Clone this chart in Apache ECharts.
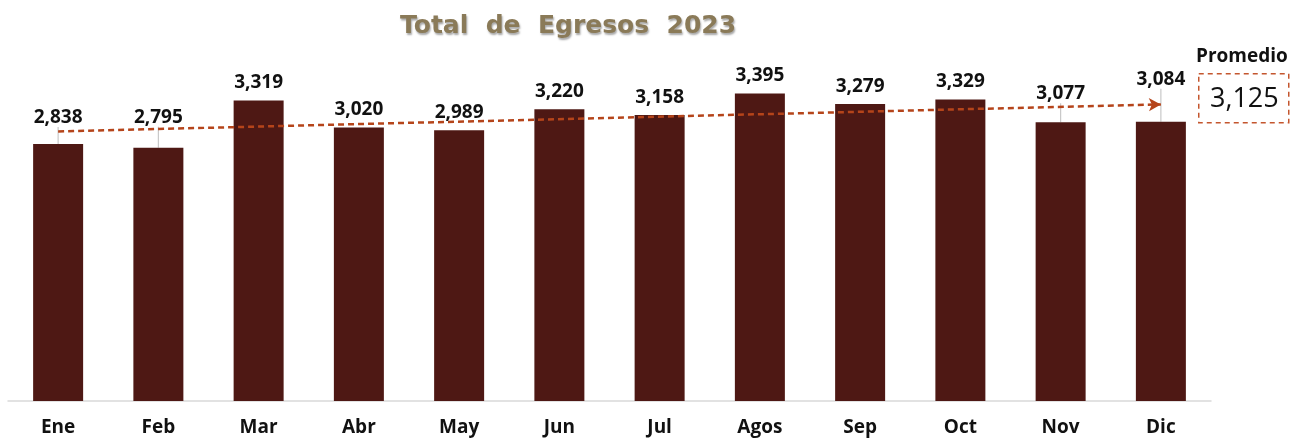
<!DOCTYPE html>
<html>
<head>
<meta charset="utf-8">
<script src="https://cdn.jsdelivr.net/npm/echarts@6/dist/echarts.min.js"></script>
<style>
  html, body { margin: 0; padding: 0; background: #ffffff; }
  #chart { width: 1303px; height: 438px; }
</style>
</head>
<body>
<div id="chart"></div>
<script>
const months = ["Ene", "Feb", "Mar", "Abr", "May", "Jun", "Jul", "Agos", "Sep", "Oct", "Nov", "Dic"];
const egresos = [2838, 2795, 3319, 3020, 2989, 3220, 3158, 3395, 3279, 3329, 3077, 3084];
// trend line ends (Ene -> Dic)
const trendEnds = [2976, 3275];
const promedio = 3125;

// extra upward shift of some value labels (pixels), styling only
const labelLift = [-9, -13, 0, 0, 0, 0, 0, 0, 0, 0, -11, -25];

const colors = {
  bar: "#4e1814",
  trend: "#b5441a",
  box: "#c4562e",
  title: "#8a7a58",
  ink: "#111111",
  axis: "#d9d9d9",
  guide: "#c8c8c8"
};

const font = "'Open Sans', 'DejaVu Sans', sans-serif";
const fmt = v => Number(v).toLocaleString("en-US");

const chart = echarts.init(document.getElementById("chart"), null, { renderer: "canvas" });

chart.setOption({
  animation: false,
  title: {
    text: "Total  de  Egresos  2023",
    left: 395,
    top: 9,
    textStyle: {
      fontFamily: "'DejaVu Sans', sans-serif",
      fontSize: 25,
      fontWeight: "bold",
      color: colors.title,
      textShadowColor: "rgba(0,0,0,0.35)",
      textShadowBlur: 2,
      textShadowOffsetX: 1,
      textShadowOffsetY: 2
    }
  },
  grid: { left: 8, right: 92, top: 84, bottom: 37 },
  xAxis: {
    type: "category",
    data: months,
    axisTick: { show: false },
    axisLine: { lineStyle: { color: colors.axis, width: 1.5 } },
    axisLabel: {
      interval: 0,
      margin: 17,
      color: colors.ink,
      fontFamily: font,
      fontWeight: "bold",
      fontSize: 19
    }
  },
  yAxis: {
    type: "value",
    min: 0,
    max: 3500,
    show: false,
    splitLine: { show: false }
  },
  series: [
    {
      type: "bar",
      data: egresos.map((v, i) => ({
        value: v,
        labelLine: { show: labelLift[i] !== 0 }
      })),
      barWidth: 50,
      itemStyle: { color: colors.bar },
      label: {
        show: true,
        position: "top",
        distance: 8,
        formatter: p => fmt(p.value),
        color: colors.ink,
        fontFamily: font,
        fontWeight: "bold",
        fontSize: 19
      },
      labelLayout: p => ({ dy: labelLift[p.dataIndex] }),
      labelLine: { show: false, lineStyle: { color: colors.guide, width: 1.2 } },
      markLine: {
        silent: true,
        symbol: ["none", "arrow"],
        symbolSize: [10, 12],
        label: { show: false },
        lineStyle: { color: colors.trend, type: [6, 4], width: 2.5 },
        data: [[
          { coord: [months[0], trendEnds[0]] },
          { coord: [months[months.length - 1], trendEnds[1]] }
        ]]
      }
    }
  ],
  graphic: [
    {
      type: "text",
      left: 1196,
      top: 47,
      style: {
        text: "Promedio",
        fill: colors.ink,
        font: "bold 19px " + font
      }
    },
    {
      type: "rect",
      left: 1198,
      top: 73,
      shape: { width: 90, height: 49 },
      style: { fill: "#ffffff", stroke: colors.box, lineWidth: 1.5, lineDash: [5, 4] }
    },
    {
      type: "text",
      left: 1210,
      top: 86,
      style: {
        text: fmt(promedio),
        fill: colors.ink,
        font: "27px " + font
      }
    }
  ]
});
</script>
</body>
</html>
